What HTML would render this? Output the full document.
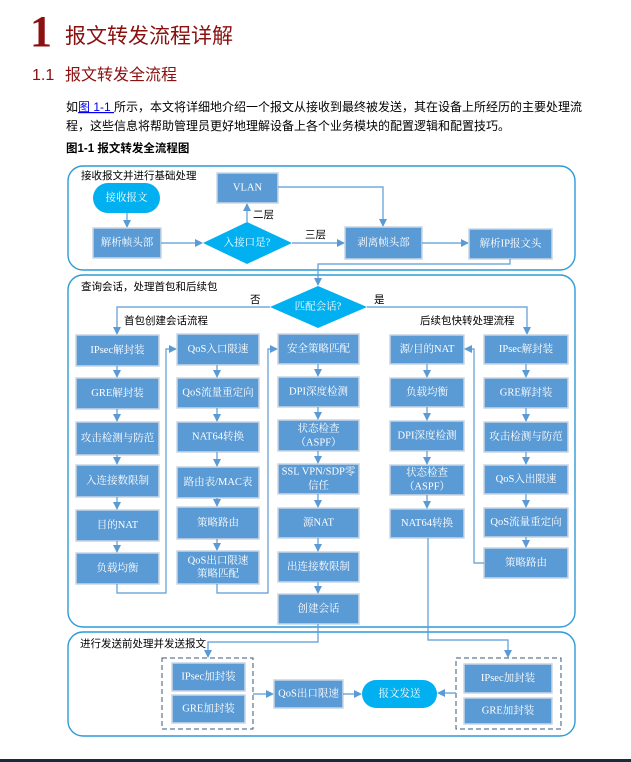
<!DOCTYPE html>
<html><head><meta charset="utf-8"><style>
html,body{margin:0;padding:0;background:#fff;}
svg{display:block;}
text{font-family:"Liberation Serif","Noto Serif CJK SC","Noto Sans CJK SC",serif;}
.b{fill:#5b9bd5;stroke:#c9d6e3;stroke-width:1.5;}
.t{fill:#fff;font-size:10.5px;text-anchor:middle;dominant-baseline:central;}
.l{fill:none;stroke:#5b9bd5;stroke-width:1.2;}
.c{fill:none;stroke:#2e9bd6;stroke-width:1.4;}
.lab{font-size:10.5px;fill:#000;font-family:"Liberation Sans","Noto Sans CJK SC",sans-serif;}
</style></head><body>
<svg width="631" height="762" viewBox="0 0 631 762" xmlns="http://www.w3.org/2000/svg">
<defs>
<marker id="a" markerWidth="8" markerHeight="8" refX="7" refY="4" orient="auto" markerUnits="userSpaceOnUse"><path d="M0,0 L8,4 L0,8 z" fill="#5b9bd5"/></marker>
</defs>
<text x="30" y="46" font-size="44" font-weight="bold" fill="#8b1010" style="font-family:'Liberation Serif',serif">1</text>
<text x="65" y="43" font-size="21" fill="#8b1010" style="font-family:'Liberation Sans','Noto Sans CJK SC',sans-serif">报文转发流程详解</text>
<text x="32" y="80" font-size="16" fill="#8b1010" style="font-family:'Liberation Sans',sans-serif">1.1</text>
<text x="65" y="80" font-size="16" fill="#8b1010" style="font-family:'Liberation Sans','Noto Sans CJK SC',sans-serif">报文转发全流程</text>
<text x="66" y="111" font-size="12" fill="#000" style="font-family:'Liberation Sans','Noto Sans CJK SC',sans-serif">如<tspan fill="#0000ee" text-decoration="underline">图 1-1 </tspan>所示，本文将详细地介绍一个报文从接收到最终被发送，其在设备上所经历的主要处理流</text>
<text x="66" y="130" font-size="12" fill="#000" style="font-family:'Liberation Sans','Noto Sans CJK SC',sans-serif">程，这些信息将帮助管理员更好地理解设备上各个业务模块的配置逻辑和配置技巧。</text>
<text x="66" y="152" font-size="11.5" font-weight="bold" fill="#000" style="font-family:'Liberation Sans','Noto Sans CJK SC',sans-serif">图1-1  报文转发全流程图</text>

<rect class="c" x="68" y="166" width="507" height="104" rx="15"/>
<rect class="c" x="68" y="275" width="507" height="352" rx="15"/>
<rect class="c" x="68" y="632" width="507" height="104" rx="15"/>
<text class="lab" x="81" y="179">接收报文并进行基础处理</text>
<text class="lab" x="81" y="290">查询会话，处理首包和后续包</text>
<text class="lab" x="80" y="647">进行发送前处理并发送报文</text>

<rect x="93" y="183" width="67" height="30" rx="15" fill="#00b0f0"/>
<text class="t" x="126.5" y="198">接收报文</text>
<path class="l" d="M127,213 V227" marker-end="url(#a)"/>
<rect class="b" x="93" y="228" width="68" height="30"/><text class="t" x="127" y="243">解析帧头部</text>
<path class="l" d="M161,243 H202" marker-end="url(#a)"/>
<polygon points="247,222 292,243 247,264 203,243" fill="#00b0f0"/>
<text class="t" x="247" y="243">入接口是?</text>
<path class="l" d="M247,222 V204" marker-end="url(#a)"/>
<text class="lab" x="253" y="218">二层</text>
<rect class="b" x="217" y="173" width="61" height="30"/><text class="t" x="247.5" y="188">VLAN</text>
<path class="l" d="M278,187 H383 V226" marker-end="url(#a)"/>
<path class="l" d="M292,243 H344" marker-end="url(#a)"/>
<text class="lab" x="305" y="238">三层</text>
<rect class="b" x="345" y="227" width="77" height="32"/><text class="t" x="383.5" y="243">剥离帧头部</text>
<path class="l" d="M422,243 H468" marker-end="url(#a)"/>
<rect class="b" x="469" y="229" width="83" height="30"/><text class="t" x="510.5" y="244">解析IP报文头</text>
<path class="l" d="M510,259 V264 H318 V285" marker-end="url(#a)"/>

<polygon points="318,286 367,307 318,328 270,307" fill="#00b0f0"/>
<text class="t" x="318" y="307">匹配会话?</text>
<path class="l" d="M270,307 H117 V334" marker-end="url(#a)"/>
<path class="l" d="M367,307 H527 V334" marker-end="url(#a)"/>
<text class="lab" x="250" y="303">否</text>
<text class="lab" x="374" y="303">是</text>
<text class="lab" x="124" y="324">首包创建会话流程</text>
<text class="lab" x="420" y="324">后续包快转处理流程</text>

<g>
<rect class="b" x="76" y="335" width="83" height="31"/><text class="t" x="117.5" y="350.5">IPsec解封装</text>
<rect class="b" x="76" y="378" width="83" height="31"/><text class="t" x="117.5" y="393.5">GRE解封装</text>
<rect class="b" x="76" y="422" width="83" height="33"/><text class="t" x="117.5" y="438.5">攻击检测与防范</text>
<rect class="b" x="76" y="465" width="83" height="32"/><text class="t" x="117.5" y="481">入连接数限制</text>
<rect class="b" x="76" y="510" width="83" height="31"/><text class="t" x="117.5" y="525.5">目的NAT</text>
<rect class="b" x="76" y="553" width="83" height="31"/><text class="t" x="117.5" y="568.5">负载均衡</text>
<path class="l" d="M117,366 V377" marker-end="url(#a)"/>
<path class="l" d="M117,409 V421" marker-end="url(#a)"/>
<path class="l" d="M117,455 V464" marker-end="url(#a)"/>
<path class="l" d="M117,497 V509" marker-end="url(#a)"/>
<path class="l" d="M117,541 V552" marker-end="url(#a)"/>
<path class="l" d="M117,584 V593 H166 V349 H176" marker-end="url(#a)"/>
</g>
<g>
<rect class="b" x="177" y="334" width="82" height="31"/><text class="t" x="218" y="349.5">QoS入口限速</text>
<rect class="b" x="177" y="378" width="82" height="30"/><text class="t" x="218" y="393">QoS流量重定向</text>
<rect class="b" x="177" y="422" width="82" height="30"/><text class="t" x="218" y="437">NAT64转换</text>
<rect class="b" x="177" y="467" width="82" height="31"/><text class="t" x="218" y="482.5">路由表/MAC表</text>
<rect class="b" x="177" y="507" width="82" height="32"/><text class="t" x="218" y="523">策略路由</text>
<rect class="b" x="177" y="551" width="82" height="33"/><text class="t" x="218" y="561">QoS出口限速</text><text class="t" x="218" y="574">策略匹配</text>
<path class="l" d="M217,365 V377" marker-end="url(#a)"/>
<path class="l" d="M217,408 V421" marker-end="url(#a)"/>
<path class="l" d="M217,452 V466" marker-end="url(#a)"/>
<path class="l" d="M217,498 V506" marker-end="url(#a)"/>
<path class="l" d="M217,539 V550" marker-end="url(#a)"/>
<path class="l" d="M217,584 V593 H268 V349 H277" marker-end="url(#a)"/>
</g>
<g>
<rect class="b" x="278" y="334" width="81" height="30"/><text class="t" x="318.5" y="349">安全策略匹配</text>
<rect class="b" x="278" y="377" width="81" height="30"/><text class="t" x="318.5" y="392">DPI深度检测</text>
<rect class="b" x="278" y="420" width="81" height="31"/><text class="t" x="318.5" y="429">状态检查</text><text class="t" x="318.5" y="443">（ASPF）</text>
<rect class="b" x="278" y="464" width="81" height="30"/><text class="t" x="318.5" y="472">SSL VPN/SDP零</text><text class="t" x="318.5" y="486">信任</text>
<rect class="b" x="278" y="508" width="81" height="30"/><text class="t" x="318.5" y="523">源NAT</text>
<rect class="b" x="278" y="552" width="81" height="30"/><text class="t" x="318.5" y="567">出连接数限制</text>
<rect class="b" x="278" y="594" width="81" height="30"/><text class="t" x="318.5" y="609">创建会话</text>
<path class="l" d="M318,364 V376" marker-end="url(#a)"/>
<path class="l" d="M318,407 V419" marker-end="url(#a)"/>
<path class="l" d="M318,451 V463" marker-end="url(#a)"/>
<path class="l" d="M318,494 V507" marker-end="url(#a)"/>
<path class="l" d="M318,538 V551" marker-end="url(#a)"/>
<path class="l" d="M318,582 V593" marker-end="url(#a)"/>
</g>
<g>
<rect class="b" x="390" y="335" width="74" height="29"/><text class="t" x="427" y="349.5">源/目的NAT</text>
<rect class="b" x="390" y="378" width="74" height="29"/><text class="t" x="427" y="392.5">负载均衡</text>
<rect class="b" x="390" y="421" width="74" height="30"/><text class="t" x="427" y="436">DPI深度检测</text>
<rect class="b" x="390" y="465" width="74" height="30"/><text class="t" x="427" y="473">状态检查</text><text class="t" x="427" y="487">（ASPF）</text>
<rect class="b" x="390" y="509" width="74" height="29"/><text class="t" x="427" y="523.5">NAT64转换</text>
<path class="l" d="M427,364 V377" marker-end="url(#a)"/>
<path class="l" d="M427,407 V420" marker-end="url(#a)"/>
<path class="l" d="M427,451 V464" marker-end="url(#a)"/>
<path class="l" d="M427,495 V508" marker-end="url(#a)"/>
</g>
<g>
<rect class="b" x="484" y="335" width="84" height="29"/><text class="t" x="526" y="349.5">IPsec解封装</text>
<rect class="b" x="484" y="378" width="84" height="30"/><text class="t" x="526" y="393">GRE解封装</text>
<rect class="b" x="484" y="422" width="84" height="30"/><text class="t" x="526" y="437">攻击检测与防范</text>
<rect class="b" x="484" y="465" width="84" height="29"/><text class="t" x="526" y="479.5">QoS入出限速</text>
<rect class="b" x="484" y="508" width="84" height="29"/><text class="t" x="526" y="522.5">QoS流量重定向</text>
<rect class="b" x="484" y="548" width="84" height="30"/><text class="t" x="526" y="563">策略路由</text>
<path class="l" d="M526,364 V377" marker-end="url(#a)"/>
<path class="l" d="M526,408 V421" marker-end="url(#a)"/>
<path class="l" d="M526,452 V464" marker-end="url(#a)"/>
<path class="l" d="M526,494 V507" marker-end="url(#a)"/>
<path class="l" d="M526,537 V547" marker-end="url(#a)"/>
<path class="l" d="M484,563 H474 V349 H465" marker-end="url(#a)"/>
</g>

<path class="l" d="M318,624 V642 H208 V657" marker-end="url(#a)"/>
<path class="l" d="M428,538 V640 H508 V657" marker-end="url(#a)"/>
<rect x="162" y="658" width="91" height="71" fill="none" stroke="#3a5a78" stroke-width="1" stroke-dasharray="5,3"/>
<rect class="b" x="172" y="663" width="73" height="28"/><text class="t" x="208.5" y="677">IPsec加封装</text>
<rect class="b" x="172" y="695" width="73" height="28"/><text class="t" x="208.5" y="709">GRE加封装</text>
<path class="l" d="M253,694 H273" marker-end="url(#a)"/>
<rect class="b" x="274" y="680" width="69" height="28"/><text class="t" x="308.5" y="694">QoS出口限速</text>
<path class="l" d="M343,694 H361" marker-end="url(#a)"/>
<rect x="362" y="680" width="75" height="28" rx="14" fill="#00b0f0"/><text class="t" x="399.5" y="694">报文发送</text>
<rect x="456" y="658" width="105" height="71" fill="none" stroke="#3a5a78" stroke-width="1" stroke-dasharray="5,3"/>
<rect class="b" x="464" y="664" width="88" height="29"/><text class="t" x="508" y="678.5">IPsec加封装</text>
<rect class="b" x="464" y="698" width="88" height="26"/><text class="t" x="508" y="711">GRE加封装</text>
<path class="l" d="M456,693 H438" marker-end="url(#a)"/>
<rect x="0" y="759" width="631" height="3" fill="#1a2a3a"/>
</svg>
</body></html>
